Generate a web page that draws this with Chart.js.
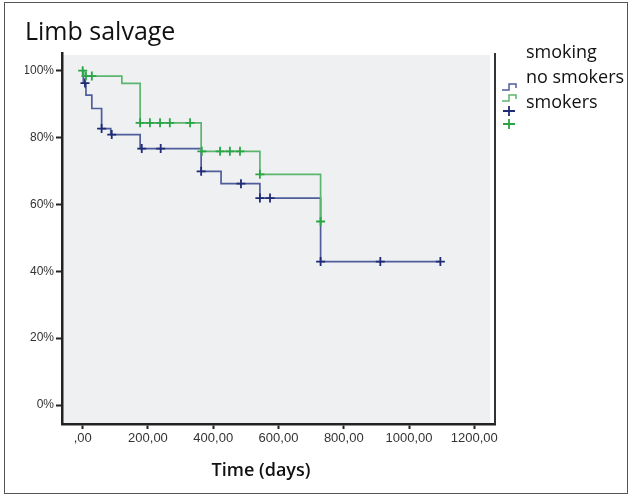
<!DOCTYPE html>
<html><head><meta charset="utf-8">
<script src="https://cdn.jsdelivr.net/npm/chart.js@4/dist/chart.umd.min.js"></script>
<style>html,body{margin:0;padding:0;background:#fff;}#wrap{width:631px;height:497px;position:relative;}</style>
</head><body><div id="wrap"><canvas id="c" width="631" height="497"></canvas></div>
<script>
const chartTitle = 'Limb salvage';
const legendTitle = 'smoking';
const seriesNames = ['no smokers', 'smokers'];
const xAxisTitle = 'Time (days)';
const xTickValues = [0, 200, 400, 600, 800, 1000, 1200];
const xTickLabels = [',00', '200,00', '400,00', '600,00', '800,00', '1000,00', '1200,00'];
const yTickValues = [0, 20, 40, 60, 80, 100];
const yTickLabels = ['0%', '20%', '40%', '60%', '80%', '100%'];

const noSmokersTimes = [0, 2, 10, 28, 58, 86, 176, 363, 424, 543, 729, 1096];
const noSmokersSurvival = [100, 96.3, 92.7, 88.7, 82.7, 80.9, 76.7, 69.9, 66.2, 61.9, 42.9, 42.9];
const noSmokersCensorTimes = [7, 58, 89, 181, 239, 363, 485, 543, 574, 729, 912, 1096];
const noSmokersCensorSurvival = [96.3, 82.7, 80.9, 76.7, 76.7, 69.9, 66.2, 61.9, 61.9, 42.9, 42.9, 42.9];

const smokersTimes = [0, 3, 120, 176, 363, 543, 729];
const smokersSurvival = [100, 98.4, 96.2, 84.4, 75.9, 69.0, 54.9];
const smokersCensorTimes = [0, 10, 28, 176, 206, 237, 267, 329, 365, 421, 451, 482, 543, 729];
const smokersCensorSurvival = [100, 98.4, 98.4, 84.4, 84.4, 84.4, 84.4, 84.4, 75.9, 75.9, 75.9, 75.9, 69.0, 54.9];

const blueLine = '#4f5d9c';
const blueMark = '#1f2b75';
const greenLine = '#5cb56e';
const greenMark = '#2aa545';

const toXY = (xs, ys) => xs.map((x, i) => ({x: x, y: ys[i]}));

const decor = {
  id: 'decor',
  beforeDraw(chart) {
    const {ctx, chartArea: a} = chart;
    ctx.save();
    ctx.fillStyle = '#ffffff';
    ctx.fillRect(0, 0, chart.width, chart.height);
    ctx.fillStyle = '#eef0f2';
    ctx.fillRect(a.left + 1, a.top + 2, a.right - a.left - 6, a.bottom - a.top - 3);
    ctx.restore();
  },
  afterDraw(chart) {
    const {ctx, chartArea: a} = chart;
    ctx.save();
    ctx.strokeStyle = '#333';
    ctx.lineWidth = 2;
    ctx.beginPath();
    ctx.moveTo(a.right, a.top);
    ctx.lineTo(a.right, a.bottom);
    ctx.stroke();
    ctx.lineWidth = 1;
    ctx.strokeStyle = '#555';
    ctx.strokeRect(4.5, 2.5, 623, 491);
    ctx.fillStyle = '#111';
    ctx.font = '600 18px "Open Sans"';
    ctx.textAlign = 'center';
    ctx.textBaseline = 'alphabetic';
    ctx.fillText(xAxisTitle, 261, 476);
    ctx.textAlign = 'left';
    ctx.font = '18px "Open Sans"';
    ctx.fillText(legendTitle, 526, 58);
    ctx.fillText(seriesNames[0], 526, 83);
    ctx.fillText(seriesNames[1], 526, 108);
    ctx.lineWidth = 1.5;
    ctx.strokeStyle = blueLine;
    ctx.beginPath();
    ctx.moveTo(502, 90); ctx.lineTo(509, 90); ctx.lineTo(509, 84); ctx.lineTo(516, 84); ctx.lineTo(516, 88);
    ctx.stroke();
    ctx.strokeStyle = greenLine;
    ctx.beginPath();
    ctx.moveTo(502, 101); ctx.lineTo(509, 101); ctx.lineTo(509, 95); ctx.lineTo(516, 95); ctx.lineTo(516, 99);
    ctx.stroke();
    ctx.lineWidth = 1.8;
    ctx.strokeStyle = blueMark;
    ctx.beginPath();
    ctx.moveTo(503, 111); ctx.lineTo(515, 111); ctx.moveTo(509, 106); ctx.lineTo(509, 116);
    ctx.stroke();
    ctx.strokeStyle = greenMark;
    ctx.beginPath();
    ctx.moveTo(503, 124); ctx.lineTo(515, 124); ctx.moveTo(509, 119); ctx.lineTo(509, 129);
    ctx.stroke();
    ctx.restore();
  }
};

new Chart(document.getElementById('c'), {
  data: {
    datasets: [
      {type: 'scatter', label: seriesNames[1] + ' censored', data: toXY(smokersCensorTimes, smokersCensorSurvival), order: 0,
       pointStyle: 'cross', pointRadius: 4.5, pointBorderWidth: 1.8, borderColor: greenMark, backgroundColor: greenMark, showLine: false},
      {type: 'scatter', label: seriesNames[0] + ' censored', data: toXY(noSmokersCensorTimes, noSmokersCensorSurvival), order: 0,
       pointStyle: 'cross', pointRadius: 4.5, pointBorderWidth: 1.8, borderColor: blueMark, backgroundColor: blueMark, showLine: false},
      {type: 'line', label: seriesNames[1], data: toXY(smokersTimes, smokersSurvival), order: 1,
       stepped: 'before', borderColor: greenLine, borderWidth: 1.7, pointRadius: 0, fill: false},
      {type: 'line', label: seriesNames[0], data: toXY(noSmokersTimes, noSmokersSurvival), order: 2,
       stepped: 'before', borderColor: blueLine, borderWidth: 1.7, pointRadius: 0, fill: false}
    ]
  },
  options: {
    responsive: false,
    animation: false,
    devicePixelRatio: 1,
    layout: {padding: {left: 25, right: 136, top: 0, bottom: 0}},
    plugins: {
      legend: {display: false},
      tooltip: {enabled: false},
      title: {display: true, text: chartTitle, align: 'start', color: '#111',
        font: {family: 'Open Sans', size: 25, weight: 'normal', lineHeight: 1.2},
        padding: {top: 18, bottom: 5}}
    },
    scales: {
      x: {
        type: 'linear', position: 'bottom', min: -63.4, max: 1263.4,
        afterFit(s) { s.height = 73; },
        afterBuildTicks(s) { s.ticks = xTickValues.map(v => ({value: v})); },
        ticks: {callback: (v, i) => xTickLabels[i], color: '#333', font: {family: 'Liberation Sans', size: 13},
          padding: 2, maxRotation: 0, autoSkip: false},
        grid: {drawOnChartArea: false, drawTicks: true, tickLength: 5, tickWidth: 2, tickColor: '#222'},
        border: {display: true, color: '#222', width: 2.5}
      },
      y: {
        type: 'linear', position: 'left', min: -5.68, max: 105.3,
        afterFit(s) { s.width = 37; },
        afterBuildTicks(s) { s.ticks = yTickValues.map(v => ({value: v})); },
        ticks: {callback: (v, i) => yTickLabels[i], color: '#333', font: {family: 'Liberation Sans', size: 12},
          padding: 2, autoSkip: false},
        grid: {drawOnChartArea: false, drawTicks: true, tickLength: 6, tickWidth: 2, tickColor: '#222'},
        border: {display: true, color: '#222', width: 2.5}
      }
    }
  },
  plugins: [decor]
});
</script></body></html>
